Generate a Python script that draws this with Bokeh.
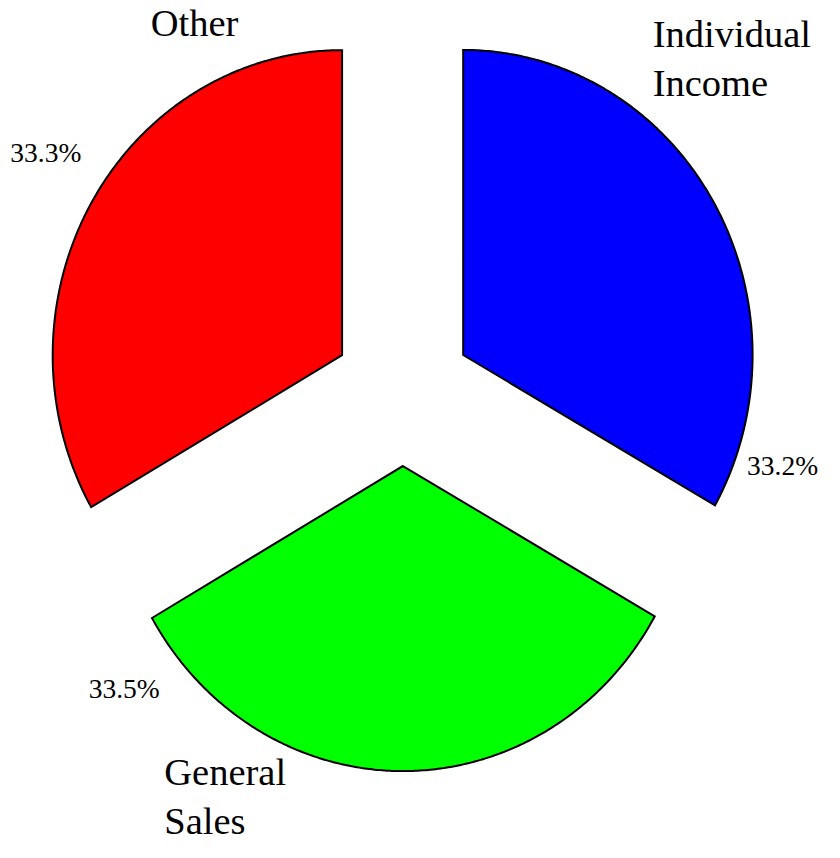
import numpy as np
from bokeh.plotting import figure
from bokeh.models import Range1d
from bokeh.core.properties import value
from bokeh.embed import file_html
from bokeh.resources import INLINE

# ---- data ----
labels = ["Individual\nIncome", "General\nSales", "Other"]
percents = [33.2, 33.5, 33.3]
colors = ["#0000ff", "#00ff00", "#ff0000"]

# ---- layout (style) ----
explode = 0.242
start_deg = 90.0  # clockwise from 12 o'clock
# label anchors (left, baseline) in data units relative to pie centre
name_pos = [(0.864, 1.130), (-0.824, -1.288), (-0.871, 1.168)]
pct_pos = [(1.190, -0.269), (-1.085, -1.002), (-1.356, 0.757)]

W, H = 824, 842
k = W / 840.0
cx_px, cy_px = 410.0 * k, 399.3 * k
rx_px, ry_px = 295.0 * k, 311.0 * k

p = figure(width=W, height=H, output_backend="svg", toolbar_location=None,
           x_axis_type=None, y_axis_type=None, min_border=0,
           x_range=Range1d(-cx_px / rx_px, (W - cx_px) / rx_px),
           y_range=Range1d(-(H - cy_px) / ry_px, cy_px / ry_px))
p.grid.visible = False
p.outline_line_color = None
p.background_fill_color = "white"
p.border_fill_color = "white"

total = sum(percents)
xs, ys = [], []
a0 = np.radians(start_deg)
for pct in percents:
    span = 2 * np.pi * pct / total
    a1 = a0 - span
    mid = (a0 + a1) / 2
    ox, oy = explode * np.cos(mid), explode * np.sin(mid)
    t = np.linspace(a0, a1, 240)
    xs.append(list(np.concatenate([[ox], ox + np.cos(t)])))
    ys.append(list(np.concatenate([[oy], oy + np.sin(t)])))
    a0 = a1

p.patches(xs, ys, fill_color=colors, line_color="black", line_width=2,
          line_join="miter")

font = value("Liberation Serif")
nx, ny, nt, noff = [], [], [], []
for lab, (x, y) in zip(labels, name_pos):
    for i, line in enumerate(lab.split("\n")):
        nx.append(x); ny.append(y); nt.append(line); noff.append(49 * i - 13)
p.text(x=nx, y=ny, text=nt, y_offset=noff, text_font=font,
       text_font_size="38.5px", text_color="black", text_align="left",
       text_baseline="alphabetic")

p.text(x=[q[0] for q in pct_pos], y=[q[1] for q in pct_pos],
       text=[f"{v:.1f}%" for v in percents], text_font=font, y_offset=-9,
       text_font_size="27.5px", text_color="black", text_align="left",
       text_baseline="alphabetic")

open("out.html", "w").write(file_html(p, INLINE))
